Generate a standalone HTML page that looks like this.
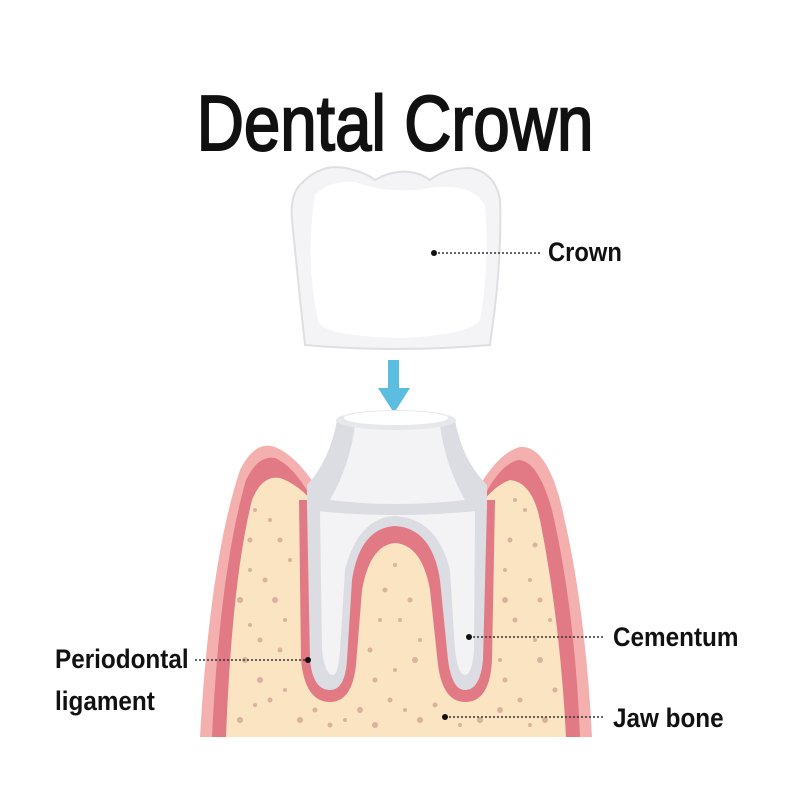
<!DOCTYPE html>
<html><head><meta charset="utf-8"><style>
html,body{margin:0;padding:0;background:#fff;width:800px;height:800px;overflow:hidden}
svg{display:block}
text{font-family:"Liberation Sans",sans-serif;font-weight:bold;fill:#111}
</style></head><body>
<svg width="800" height="800" viewBox="0 0 800 800" xmlns="http://www.w3.org/2000/svg">
<text x="395" y="150" font-size="78" text-anchor="middle" transform="translate(395 0) scale(0.84 1) translate(-395 0)" style="font-weight:normal;stroke:#111;stroke-width:2">Dental Crown</text>

<!-- crown -->
<path d="M300 185 Q320 163 345 168 Q365 172 375 180 Q392 170 410 172 Q420 173 430 180 Q445 168 470 168 Q495 172 500 200 Q502 260 492 330 L490 345 Q395 353 305 345 Q300 300 292 220 Q290 195 300 185Z" fill="#f4f4f6" stroke="#dedfe3" stroke-width="2"/>
<path d="M315 195 Q330 180 355 182 Q390 195 430 188 Q470 182 485 205 Q490 260 480 320 Q470 335 400 338 Q320 336 318 320 Q305 260 315 195Z" fill="#fff"/>
<circle cx="434" cy="253" r="3" fill="#111"/>
<line x1="438" y1="253" x2="540" y2="253" stroke="#333" stroke-width="1.5" stroke-dasharray="2 2"/>
<text x="548" y="261" font-size="27" transform="translate(548 0) scale(0.88 1) translate(-548 0)">Crown</text>

<!-- arrow -->
<rect x="388" y="360" width="11" height="30" fill="#5bbde0"/>
<path d="M378 388 L410 388 L394 413Z" fill="#5bbde0"/>

<!-- gum outer -->
<path d="M200 737 Q210 560 240 470 Q255 440 275 447 Q295 455 315 485 L480 485 Q500 452 520 447 Q545 445 560 500 Q585 600 592 737Z" fill="#f4b0ae"/>
<path d="M212 737 Q220 570 246 480 Q258 455 275 458 Q292 465 310 495 L485 495 Q500 465 518 460 Q538 460 552 510 Q575 610 580 737Z" fill="#e27a86"/>
<path d="M226 737 Q232 580 252 500 Q262 475 280 478 Q300 485 315 505 L480 505 Q495 485 510 480 Q532 482 540 520 Q560 620 566 737Z" fill="#fae4c2"/>
<!-- dots -->
<g fill="#d9b39e">
<circle cx="250" cy="540" r="2.5"/><circle cx="270" cy="520" r="2"/><circle cx="240" cy="600" r="3"/><circle cx="265" cy="580" r="2.5"/><circle cx="285" cy="620" r="2"/><circle cx="245" cy="660" r="3"/><circle cx="270" cy="700" r="2.5"/><circle cx="240" cy="720" r="3"/><circle cx="290" cy="560" r="2"/><circle cx="260" cy="640" r="2.5"/><circle cx="300" cy="720" r="3"/><circle cx="330" cy="725" r="2.5"/><circle cx="360" cy="710" r="3"/><circle cx="390" cy="700" r="2.5"/><circle cx="420" cy="720" r="3"/><circle cx="370" cy="650" r="2.5"/><circle cx="400" cy="620" r="2"/><circle cx="385" cy="590" r="2.5"/><circle cx="415" cy="660" r="3"/><circle cx="480" cy="720" r="3"/><circle cx="520" cy="700" r="2.5"/><circle cx="540" cy="660" r="3"/><circle cx="515" cy="620" r="2.5"/><circle cx="530" cy="580" r="2"/><circle cx="510" cy="540" r="2.5"/><circle cx="545" cy="720" r="3"/><circle cx="500" cy="660" r="2"/><circle cx="525" cy="510" r="2"/><circle cx="550" cy="620" r="2"/>
<circle cx="255" cy="510" r="2"/><circle cx="280" cy="540" r="2.5"/><circle cx="250" cy="570" r="2"/><circle cx="275" cy="600" r="3"/><circle cx="250" cy="625" r="2"/><circle cx="280" cy="650" r="2.5"/><circle cx="260" cy="680" r="3"/><circle cx="285" cy="690" r="2"/><circle cx="255" cy="705" r="2"/><circle cx="315" cy="710" r="2.5"/><circle cx="345" cy="720" r="2"/><circle cx="375" cy="725" r="3"/><circle cx="405" cy="710" r="2"/><circle cx="435" cy="705" r="2.5"/><circle cx="460" cy="725" r="2"/><circle cx="500" cy="710" r="3"/><circle cx="530" cy="725" r="2"/><circle cx="555" cy="690" r="2.5"/><circle cx="535" cy="640" r="2"/><circle cx="505" cy="600" r="3"/><circle cx="540" cy="600" r="2.5"/><circle cx="505" cy="570" r="2"/><circle cx="535" cy="545" r="2.5"/><circle cx="515" cy="500" r="2"/><circle cx="505" cy="680" r="2.5"/><circle cx="380" cy="620" r="2"/><circle cx="410" cy="600" r="2.5"/><circle cx="395" cy="670" r="2"/><circle cx="375" cy="680" r="2.5"/><circle cx="420" cy="640" r="2"/><circle cx="395" cy="565" r="2"/>
</g>
<!-- ligament around roots -->
<path d="M299 500 L301 660 Q305 702 330 702 Q352 702 356 665 L362 590 Q370 545 395 543 Q422 545 430 590 L438 665 Q443 702 465 702 Q490 702 492 660 L495 500Z" fill="#e27a86"/>
<!-- roots -->
<path d="M307 505 L310 660 Q313 690 330 690 Q345 690 347 660 L352 580 Q360 528 395 526 Q432 528 440 580 L448 660 Q452 690 465 690 Q480 690 483 660 L487 505Z" fill="#dcdde2"/>
<path d="M320 510 L322 650 Q325 675 333 675 Q338 675 340 650 L345 570 Q358 518 395 516 Q437 518 450 570 L455 650 Q458 675 465 675 Q472 675 474 650 L475 510Z" fill="#f3f3f5"/>
<!-- abutment -->
<path d="M307 510 L307 485 Q330 460 337 420 L455 420 Q462 460 487 485 L487 510 Q395 520 307 510Z" fill="#dcdde2"/>
<path d="M330 500 Q350 465 355 425 L440 425 Q445 465 465 500 Q395 508 330 500Z" fill="#f3f3f5"/>
<ellipse cx="396" cy="420" rx="60" ry="10" fill="#e7e8eb"/>
<ellipse cx="396" cy="418" rx="52" ry="7" fill="#fff"/>

<!-- labels -->
<circle cx="308" cy="660" r="3" fill="#111"/>
<line x1="195" y1="660" x2="305" y2="660" stroke="#333" stroke-width="1.5" stroke-dasharray="2 2"/>
<text x="55" y="668" font-size="27" transform="translate(55 0) scale(0.9 1) translate(-55 0)">Periodontal</text>
<text x="55" y="710" font-size="27" transform="translate(55 0) scale(0.9 1) translate(-55 0)">ligament</text>
<circle cx="469" cy="637" r="3" fill="#111"/>
<line x1="473" y1="637" x2="605" y2="637" stroke="#333" stroke-width="1.5" stroke-dasharray="2 2"/>
<text x="613" y="646" font-size="27" transform="translate(613 0) scale(0.9 1) translate(-613 0)">Cementum</text>
<circle cx="445" cy="717" r="3" fill="#111"/>
<line x1="449" y1="717" x2="605" y2="717" stroke="#333" stroke-width="1.5" stroke-dasharray="2 2"/>
<text x="613" y="727" font-size="27" transform="translate(613 0) scale(0.9 1) translate(-613 0)">Jaw bone</text>
</svg>
</body></html>
